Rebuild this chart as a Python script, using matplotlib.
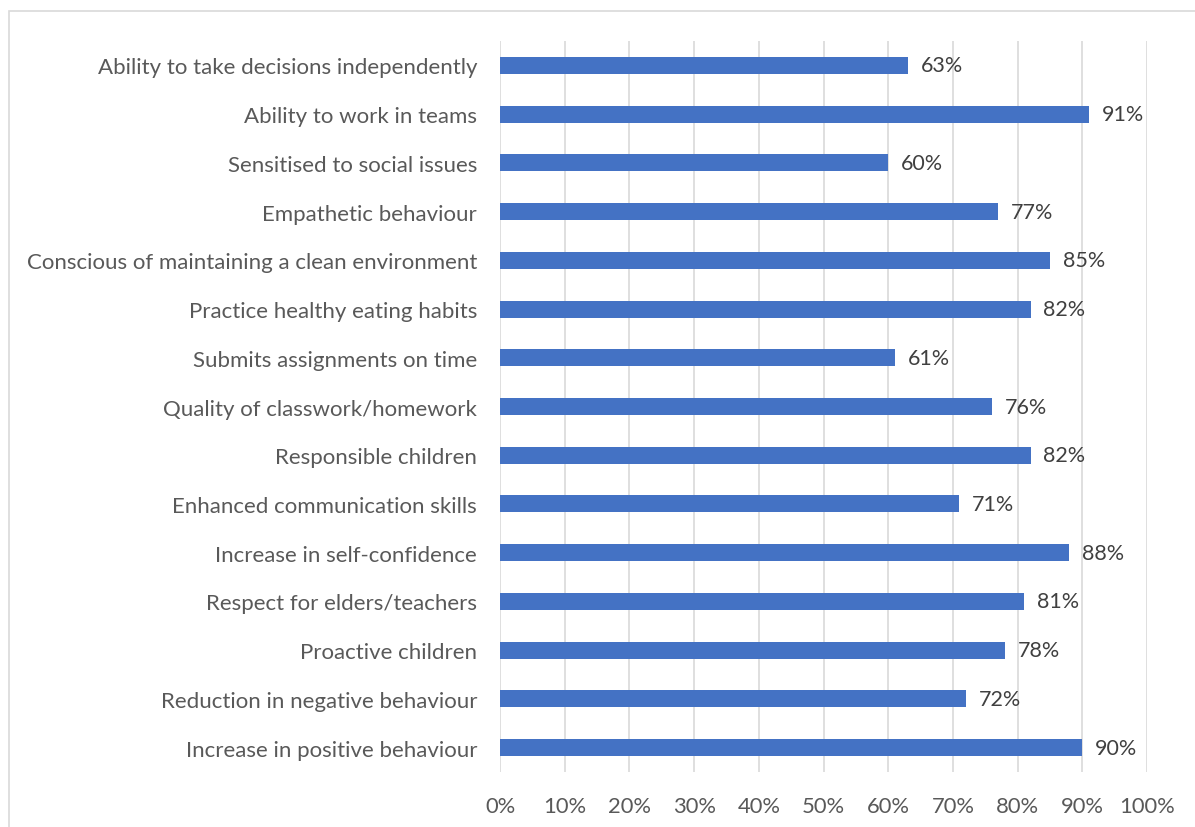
import matplotlib
matplotlib.use("Agg")
import matplotlib.pyplot as plt
from matplotlib.patches import Rectangle

categories = [
    "Ability to take decisions independently",
    "Ability to work in teams",
    "Sensitised to social issues",
    "Empathetic behaviour",
    "Conscious of maintaining a clean environment",
    "Practice healthy eating habits",
    "Submits assignments on time",
    "Quality of classwork/homework",
    "Responsible children",
    "Enhanced communication skills",
    "Increase in self-confidence",
    "Respect for elders/teachers",
    "Proactive children",
    "Reduction in negative behaviour",
    "Increase in positive behaviour",
]
values = [63, 91, 60, 77, 85, 82, 61, 76, 82, 71, 88, 81, 78, 72, 90]
x_ticks = [0, 10, 20, 30, 40, 50, 60, 70, 80, 90, 100]
x_tick_labels = [f"{t}%" for t in x_ticks]

FONT = "Lato"
TEXT_COLOR = "#595959"
BAR_COLOR = "#4472C4"
GRID_COLOR = "#D9D9D9"

W, H = 1195, 828
fig = plt.figure(figsize=(W / 100, H / 100), dpi=100)
fig.patch.set_facecolor("white")

# outer chart frame
fig.add_artist(Rectangle((9 / W, -0.1), 1.2, 1 - 12 / H + 0.1,
                         transform=fig.transFigure, fill=False,
                         edgecolor="#D9D9D9", linewidth=1.2))

ax = fig.add_axes([500 / W, 1 - 773 / H, (1147 - 500) / W, (773 - 42) / H])

n = len(categories)
ypos = list(range(n))[::-1]
ax.barh(ypos, values, height=0.35, color=BAR_COLOR, zorder=3)

for y, v in zip(ypos, values):
    ax.text(v + 2.0, y, f"{v}%", va="center", ha="left", fontsize=15.5,
            color="#404040", family=FONT)

ax.set_xlim(0, 100)
ax.set_ylim(-0.5, n - 0.5)
ax.set_xticks(x_ticks)
ax.set_xticklabels(x_tick_labels, fontsize=15.8, color=TEXT_COLOR, family=FONT)
ax.set_yticks(ypos)
ax.set_yticklabels(categories, fontsize=16, color=TEXT_COLOR, family=FONT)
ax.tick_params(axis="both", length=0)
ax.tick_params(axis="x", pad=17)
ax.tick_params(axis="y", pad=16.5)

ax.grid(axis="x", color=GRID_COLOR, linewidth=1.2, zorder=0)
for s in ax.spines.values():
    s.set_visible(False)

fig.savefig("out.png", dpi=100, facecolor="white")
